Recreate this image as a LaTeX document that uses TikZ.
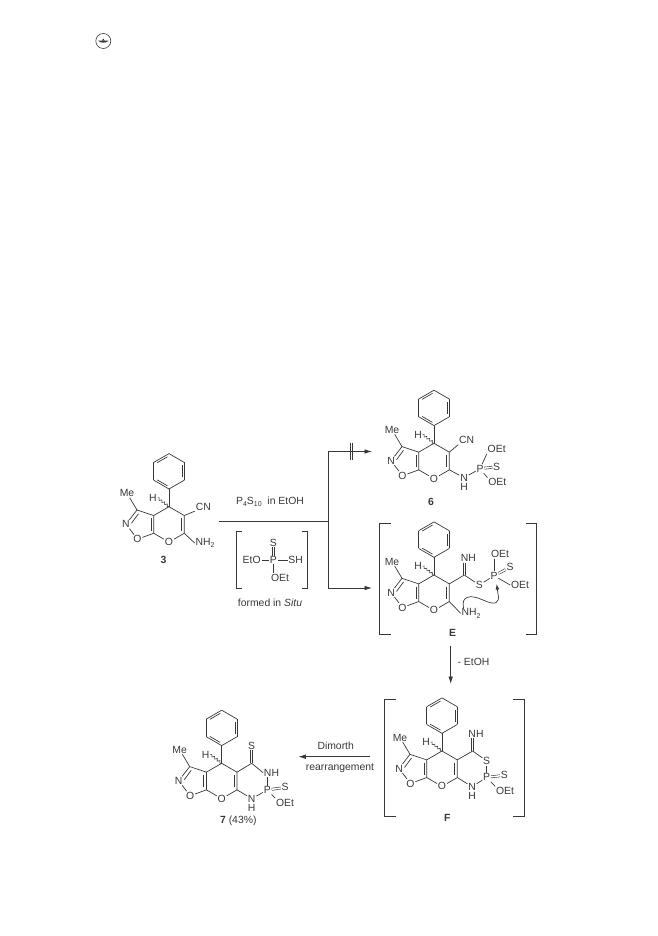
\documentclass[tikz,border=0pt]{standalone}
\usepackage{fontspec}
\setmainfont{Liberation Sans}
\usetikzlibrary{arrows.meta,calc,decorations.pathmorphing}

\definecolor{inkgray}{gray}{0.22}
\newcommand{\lowfig}[1]{\raisebox{-2.4pt}{\fontsize{7}{8}\selectfont #1}}

\tikzset{
    atom/.style={inner sep=0.7pt, text=inkgray, font=\fontsize{10.4}{12}\selectfont},
    caption/.style={inner sep=0pt, text=inkgray, font=\fontsize{10.4}{12}\selectfont},
    bond/.style={line width=0.7pt, draw=inkgray},
    dbond/.style={draw=inkgray, line width=0.6pt, double=white, double distance=1.5pt},
    wavy/.style={line width=0.55pt, draw=inkgray, decorate, decoration={snake, amplitude=1.1pt, segment length=3.4pt}},
    bracket/.style={line width=0.8pt, draw=inkgray},
    flow/.style={line width=0.8pt, draw=inkgray},
    flowtip/.style={flow, -{Latex[length=7.5pt,width=4.6pt]}}
}

% the ring system that all five compounds share, placed by its sp3 carbon
\newcommand{\corerings}[3]{
    \begin{scope}[shift={(#2,#3)}]
        \coordinate (#1c4) at (0,0);
        \coordinate (#1ipso) at (0,-17.7);
        \coordinate (#1c5) at (15.3,8.85);
        \coordinate (#1c6) at (15.3,26.55);
        \coordinate (#1c4a) at (-15.3,8.85);
        \coordinate (#1c7a) at (-15.3,26.55);
        \coordinate (#1c3) at (-32,3.3);
        \node[atom] (#1o) at (0,35.4) {O};
        \node[atom] (#1n) at (-43,17.5) {N};
        \node[atom] (#1oi) at (-31.5,32.5) {O};
        \node[atom] (#1me) at (-42,-13.5) {Me};
        \node[atom] (#1h) at (-16,-8.8) {H};
        \draw[bond] (#1c4) -- (#1c5) -- (#1c6) -- (#1o) -- (#1c7a) -- (#1c4a) -- (#1c4);
        \draw[bond] (#1c4a) -- (#1c3) -- (#1n) -- (#1oi) -- (#1c7a);
        \draw[bond] (#1c3) -- (#1me);
        \draw[bond] (#1c4) -- (#1ipso);
        \draw[bond] (12.6,11.5) -- (12.6,24);
        \draw[bond] (-18,11.5) -- (-18,24);
        \draw[bond] (-30.5,7) -- (-37.5,16.5);
        \draw[wavy] (#1h.east) -- (#1c4);
        % phenyl
        \foreach \ang in {30,90,...,330} {
            \draw[bond] ($(0,-35.4)+(\ang:17.7 and -17.7)$) -- ($(0,-35.4)+(\ang+60:17.7 and -17.7)$);
        }
        \foreach \ang in {90,210,330} {
            \draw[bond] ($(0,-35.4)+(\ang+6:14.6 and -14.6)$) -- ($(0,-35.4)+(\ang+54:14.6 and -14.6)$);
        }
    \end{scope}
}

\begin{document}
\begin{tikzpicture}[x=1pt,y=-1pt]
    \useasboundingbox (0,0) rectangle (657,936);

    % publisher mark
    \node[draw=inkgray, circle, line width=0.6pt, minimum size=15pt, inner sep=0pt] (mark) at (103.3,41) {};
    \fill[inkgray] (98,40.6) -- (108.6,40.6) .. controls (106.5,43.4) and (100.1,43.4) .. (98,40.6) -- cycle;
    \fill[inkgray] (101.8,40.6) .. controls (102.2,38) and (104.4,38) .. (104.8,40.6) -- cycle;

    % compound 3
    \corerings{three}{169}{506.7}
    \node[atom] (threecn) at (203.3,506.5) {CN};
    \node[atom] (threeam) at (205,543) {NH\lowfig{2}};
    \draw[bond] (threec5) -- (threecn.south west);
    \draw[bond] (threec6) -- (threeam.west);
    \node[caption] (threelab) at (163.5,559.5) {\textbf{3}};

    % reagents
    \node[caption] (reagent) at (270,501.5) {P\lowfig{4}S\lowfig{10}\ \ in EtOH};
    \node[atom] (rp) at (273.3,560) {P};
    \node[atom] (rs) at (273.3,542.7) {S};
    \node[atom] (reto) at (251.7,560) {EtO};
    \node[atom] (rsh) at (295.7,560) {SH};
    \node[atom] (roet) at (280,577.7) {OEt};
    \draw[dbond] (rp) -- (rs);
    \draw[bond] (reto) -- (rp);
    \draw[bond] (rp) -- (rsh);
    \draw[bond] (rp) -- (rp |- roet.north);
    \draw[bracket] (241.7,531.7) -- (236,531.7) -- (236,588.3) -- (241.7,588.3);
    \draw[bracket] (301.7,531.7) -- (307.3,531.7) -- (307.3,588.3) -- (301.7,588.3);
    \node[caption] (situ) at (270,603) {formed in \textit{Situ}};

    % branching arrows
    \coordinate (start) at (219.3,521);
    \coordinate (fork) at (328,521);
    \coordinate (upper) at (328,451.5);
    \coordinate (lower) at (328,588);
    \coordinate (uppertip) at (372,451.5);
    \coordinate (lowertip) at (372,588);
    \draw[flow] (start) -- (fork);
    \draw[flow] (upper) -- (lower);
    \draw[flowtip] (upper) -- (uppertip);
    \draw[flowtip] (lower) -- (lowertip);
    \foreach \x in {350,352.4} {
        \draw[flow] (\x,442.5) -- (\x,459.5);
    }

    % compound 6
    \corerings{six}{434}{443.3}
    \node[atom] (sixcn) at (466.7,440) {CN};
    \node[atom] (sixn) at (464,477.7) {N};
    \node[atom] (sixh) at (464,487) {H};
    \node[atom] (sixp) at (480,468.7) {P};
    \node[atom] (sixs) at (496.7,466.7) {S};
    \node[atom] (sixoa) at (496.7,449.3) {OEt};
    \node[atom] (sixob) at (497.3,482.3) {OEt};
    \draw[bond] (sixc5) -- (sixcn.south west);
    \draw[bond] (sixc6) -- (sixn);
    \draw[bond] (sixn) -- (sixp);
    \draw[dbond] (sixp) -- (sixs);
    \draw[bond] (sixp) -- (sixoa.south west);
    \draw[bond] (sixp) -- (sixob.north west);
    \node[caption] (sixlab) at (431,501.5) {\textbf{6}};

    % intermediate E
    \corerings{e}{434}{575}
    \coordinate (ecx) at (464.3,575);
    \node[atom] (enh) at (468.3,558.3) {NH};
    \node[atom] (es) at (479.3,585) {S};
    \node[atom] (ep) at (494,575.7) {P};
    \node[atom] (eoa) at (500,554.3) {OEt};
    \node[atom] (esd) at (510,567.3) {S};
    \node[atom] (eob) at (520,585) {OEt};
    \node[atom] (eam) at (471,613.3) {NH\lowfig{2}};
    \draw[bond] (ec5) -- (ecx);
    \draw[bond] (ecx) -- (es);
    \draw[dbond] (ecx) -- (ecx |- enh.south);
    \draw[bond] (es) -- (ep);
    \draw[bond] (ep) -- (ep |- eoa.south);
    \draw[dbond] (ep) -- (esd);
    \draw[bond] (ep) -- (eob.west);
    \draw[bond] (ec6) -- (eam.west);
    \draw[bond, -{Latex[length=5.5pt,width=3.8pt]}] (463.5,608) .. controls (461,596) and (470,594) .. (483,600)
        .. controls (496,606) and (500,603) .. (498,594) -- (496.7,584);
    \draw[bracket] (390.7,523.3) -- (379.3,523.3) -- (379.3,634) -- (390.7,634);
    \draw[bracket] (526,523.3) -- (536,523.3) -- (536,634) -- (526,634);
    \node[caption] (elab) at (452.7,632.5) {\textbf{E}};

    % step down to F
    \coordinate (downfrom) at (450.7,646);
    \coordinate (downto) at (450.7,684);
    \draw[flowtip] (downfrom) -- (downto);
    \node[caption] (loss) at (473.5,661.5) {- EtOH};

    % intermediate F
    \corerings{f}{442}{751}
    \coordinate (fcx) at (472.7,751);
    \node[atom] (fnh) at (476,734) {NH};
    \node[atom] (fs) at (486.7,761) {S};
    \node[atom] (fp) at (486.7,777.3) {P};
    \node[atom] (fsd) at (504.3,775.3) {S};
    \node[atom] (foe) at (505,791) {OEt};
    \node[atom] (fn) at (472,786.7) {N};
    \node[atom] (fh) at (472,796) {H};
    \draw[bond] (fc5) -- (fcx);
    \draw[dbond] (fcx) -- (fcx |- fnh.south);
    \draw[bond] (fcx) -- (fs);
    \draw[bond] (fs) -- (fp);
    \draw[dbond] (fp) -- (fsd);
    \draw[bond] (fp) -- (foe.north west);
    \draw[bond] (fc6) -- (fn);
    \draw[bond] (fn) -- (fp);
    \draw[bracket] (395.7,699) -- (384,699) -- (384,816) -- (395.7,816);
    \draw[bracket] (512.7,699) -- (524.3,699) -- (524.3,816) -- (512.7,816);
    \node[caption] (flab) at (447.3,817.5) {\textbf{F}};

    % step left to 7
    \coordinate (leftfrom) at (370,756.7);
    \coordinate (leftto) at (298.3,756.7);
    \draw[flowtip] (leftfrom) -- (leftto);
    \node[caption] (dimroth) at (335.7,746) {Dimorth};
    \node[caption] (rearr) at (340,768.3) {rearrangement};

    % compound 7
    \corerings{seven}{221.7}{763.3}
    \coordinate (sevencx) at (251.7,763.3);
    \node[atom] (sevensd) at (251.7,745.7) {S};
    \node[atom] (sevennh) at (271.5,772.7) {NH};
    \node[atom] (sevenp) at (267.3,790) {P};
    \node[atom] (sevens) at (285,787.3) {S};
    \node[atom] (sevenoe) at (285,802.7) {OEt};
    \node[atom] (sevenn) at (251.7,798.6) {N};
    \node[atom] (sevenh) at (251.7,808.2) {H};
    \draw[bond] (sevenc5) -- (sevencx);
    \draw[dbond] (sevencx) -- (sevencx |- sevensd.south);
    \draw[bond] (sevencx) -- (sevennh.west);
    \draw[bond] (sevenp |- sevennh.south) -- (sevenp);
    \draw[dbond] (sevenp) -- (sevens);
    \draw[bond] (sevenp) -- (sevenoe.north west);
    \draw[bond] (sevenc6) -- (sevenn);
    \draw[bond] (sevenn) -- (sevenp);
    \node[caption] (sevenlab) at (238.3,820.7) {\textbf{7} (43\%)};
\end{tikzpicture}
\end{document}
